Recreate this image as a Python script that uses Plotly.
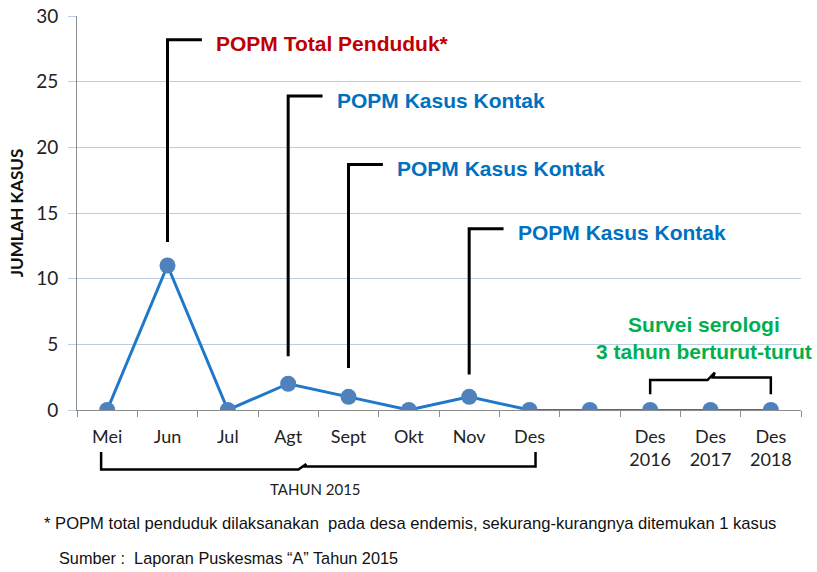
import plotly.graph_objects as go

# ---------------- data ----------------
categories = ["Mei", "Jun", "Jul", "Agt", "Sept", "Okt", "Nov", "Des", "",
              "Des<br>2016", "Des<br>2017", "Des<br>2018"]
cases = [0, 11, 0, 2, 1, 0, 1, 0, 0, 0, 0, 0]
y_ticks = [0, 5, 10, 15, 20, 25, 30]

callout_texts = ["POPM Total Penduduk*", "POPM Kasus Kontak", "POPM Kasus Kontak", "POPM Kasus Kontak"]
callout_idx = [1, 3, 4, 6]
callout_bottom = [12.8, 4.1, 3.2, 2.7]
callout_top = [28.2, 23.9, 18.7, 13.8]
callout_colors = ["#C00000", "#0070C0", "#0070C0", "#0070C0"]

survey_text = "Survei serologi<br>3 tahun berturut-turut"
year_text = "TAHUN 2015"
footnote = "* POPM total penduduk dilaksanakan  pada desa endemis, sekurang-kurangnya ditemukan 1 kasus"
source = "Sumber :  Laporan Puskesmas \u201cA\u201d Tahun 2015"

# ---------------- figure ----------------
x = list(range(len(categories)))
split = 7  # index of "Des" 2015

W, H = 817, 572
L, R, T, B = 77, 16, 16, 162
plot_w = W - L - R
plot_h = H - T - B


def py_to_paper(py):
    return (H - B - py) / plot_h


def px_to_paper(px):
    return (px - L) / plot_w


fig = go.Figure()

fig.add_trace(go.Scatter(
    x=x[split:], y=cases[split:], mode="lines",
    line=dict(color="#1F78C8", width=2), hoverinfo="skip", showlegend=False))
fig.add_trace(go.Scatter(
    x=x[:split + 1], y=cases[:split + 1], mode="lines",
    line=dict(color="#1F78C8", width=3), hoverinfo="skip", showlegend=False))
fig.add_trace(go.Scatter(
    x=x, y=cases, mode="markers",
    marker=dict(color="#4F81BD", size=16, line=dict(width=0)),
    showlegend=False))

shapes = []
annotations = []

# callouts
for i, txt, yb, yt, col in zip(callout_idx, callout_texts, callout_bottom, callout_top, callout_colors):
    shapes.append(dict(type="path", xref="x", yref="y",
                       path=f"M {i},{yb} L {i},{yt} L {i + 0.57},{yt}",
                       line=dict(color="black", width=3)))
    annotations.append(dict(x=i + 0.77, y=yt - 0.3, xref="x", yref="y", text=f"<b>{txt}</b>",
                            showarrow=False, xanchor="left", yanchor="middle",
                            font=dict(family="Liberation Sans, Arial", size=21, color=col)))

# bracket over Des 2016-2018
shapes.append(dict(type="path", xref="x", yref="y",
                   path="M 9,1.2 L 9,2.28 L 9.95,2.28 L 10.07,2.85 L 10.04,2.47 L 11,2.47 L 11,1.2",
                   line=dict(color="black", width=2.5)))
annotations.append(dict(x=px_to_paper(704), y=5.5, xref="paper", yref="y", text=f"<b>{survey_text}</b>",
                        showarrow=False, xanchor="center", yanchor="middle", align="center",
                        font=dict(family="Liberation Sans, Arial", size=21, color="#00B050")))

# bottom bracket TAHUN 2015
shapes.append(dict(type="path", xref="x", yref="paper",
                   path=(f"M -0.1,{py_to_paper(452)} L -0.1,{py_to_paper(469.5)} "
                         f"L 3.17,{py_to_paper(469.5)} L 3.30,{py_to_paper(464)} "
                         f"L 3.26,{py_to_paper(466.5)} L 7.1,{py_to_paper(466.5)} "
                         f"L 7.1,{py_to_paper(452)}"),
                   line=dict(color="black", width=2.5)))
annotations.append(dict(x=3.45, y=py_to_paper(489), xref="x", yref="paper", text=year_text,
                        showarrow=False, xanchor="center", yanchor="middle",
                        font=dict(family="Lato, sans-serif", size=15, color="#222222")))

annotations.append(dict(x=px_to_paper(42), y=py_to_paper(523), xref="paper", yref="paper",
                        text=footnote, showarrow=False, xanchor="left", yanchor="middle",
                        font=dict(family="Liberation Sans, Arial", size=16.6, color="#111111")))
annotations.append(dict(x=px_to_paper(57), y=py_to_paper(558), xref="paper", yref="paper",
                        text=source, showarrow=False, xanchor="left", yanchor="middle",
                        font=dict(family="Liberation Sans, Arial", size=16.3, color="#111111")))

fig.update_layout(
    width=W, height=H,
    margin=dict(l=L, r=R, t=T, b=B, pad=0, autoexpand=False),
    paper_bgcolor="white", plot_bgcolor="white",
    shapes=shapes, annotations=annotations,
    showlegend=False,
    font=dict(family="Lato, sans-serif", color="#222222"),
)

fig.update_xaxes(
    range=[-0.5, len(categories) - 0.5], automargin=False,
    tickmode="array", tickvals=x, ticktext=categories,
    ticks="", ticklabelstandoff=10,
    tickfont=dict(family="Lato, sans-serif", size=18, color="#222222"),
    showgrid=False, zeroline=False,
    showline=True, linecolor="#8C8C8C", linewidth=1,
    minor=dict(tickmode="array", tickvals=[v - 0.5 for v in x] + [len(x) - 0.5],
               ticks="outside", ticklen=6, tickcolor="#8C8C8C", tickwidth=1, showgrid=False),
)

fig.update_yaxes(
    range=[0, 30], tickmode="array", tickvals=y_ticks, automargin=False,
    ticks="outside", ticklen=8, tickcolor="#B9CDE5", ticklabelstandoff=6,
    tickfont=dict(family="Lato, sans-serif", size=19, color="#222222"),
    showgrid=True, gridcolor="#B9CDE5", gridwidth=1,
    zeroline=False, showline=True, linecolor="#8C8C8C", linewidth=1,
    title=dict(text="<b>JUMLAH KASUS</b>", standoff=8,
               font=dict(family="Lato, sans-serif", size=17, color="#111111")),
)

fig.write_html("out.html", config={"displayModeBar": False},
               post_script="document.body.style.margin='0';document.body.style.padding='0';")
